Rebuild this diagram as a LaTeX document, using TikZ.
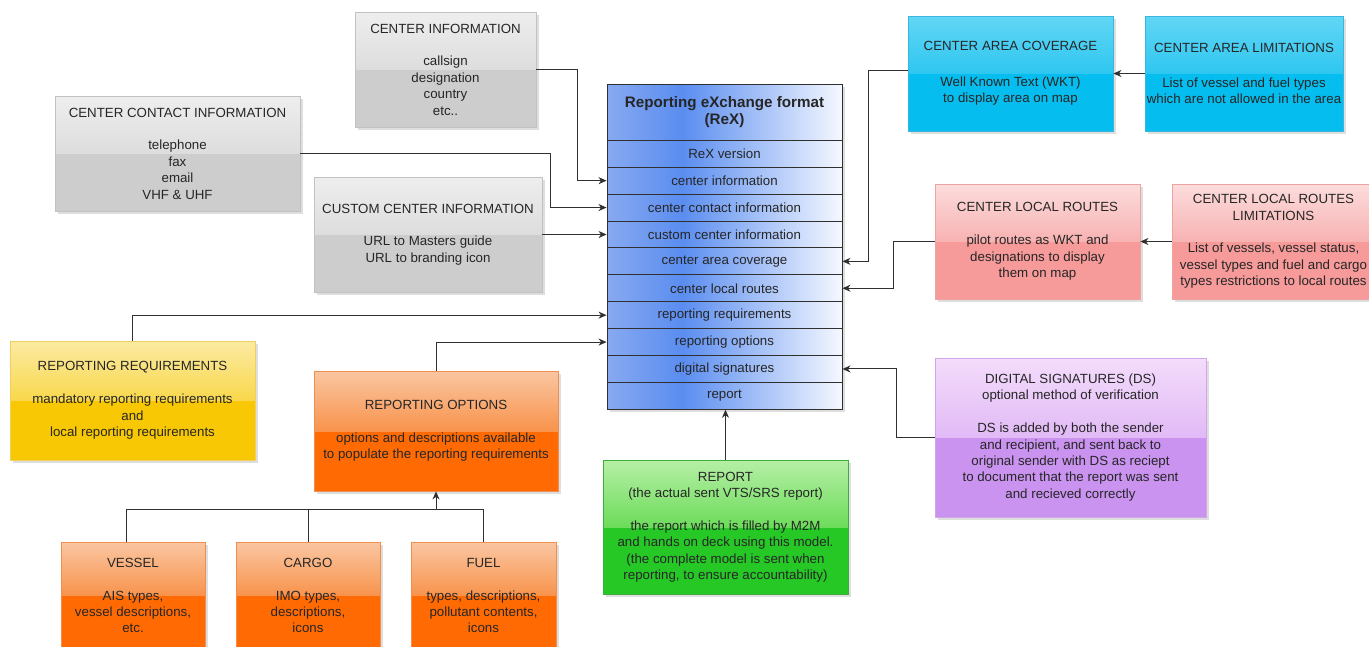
\documentclass[tikz,border=0pt]{standalone}
\usepackage{fontspec}
\setmainfont{Liberation Sans}
\usetikzlibrary{arrows.meta,calc}

% text and wire colours
\definecolor{ink}{HTML}{262626}
\definecolor{wire}{HTML}{303030}
% ReX block shading
\definecolor{rexL}{HTML}{88A9F0}
\definecolor{rexM}{HTML}{5A8DF0}
\definecolor{rexR}{HTML}{F5F8FF}
% card palettes: T top, M middle, B bottom half, E edge
\definecolor{grayT}{HTML}{EEEEEE}\definecolor{grayM}{HTML}{DDDDDD}\definecolor{grayB}{HTML}{CDCDCD}\definecolor{grayE}{HTML}{C2C2C2}
\definecolor{cyanT}{HTML}{62D6F5}\definecolor{cyanM}{HTML}{2EC6F0}\definecolor{cyanB}{HTML}{05BDEE}\definecolor{cyanE}{HTML}{3AB6DE}
\definecolor{pinkT}{HTML}{FCDCDC}\definecolor{pinkM}{HTML}{F8B2B2}\definecolor{pinkB}{HTML}{F69A9A}\definecolor{pinkE}{HTML}{EEA2A2}
\definecolor{yellT}{HTML}{FBEAA2}\definecolor{yellM}{HTML}{F9D84C}\definecolor{yellB}{HTML}{F9C804}\definecolor{yellE}{HTML}{EFCF5E}
\definecolor{orngT}{HTML}{FAC6A2}\definecolor{orngM}{HTML}{F8934C}\definecolor{orngB}{HTML}{FF6A02}\definecolor{orngE}{HTML}{EE8E50}
\definecolor{grenT}{HTML}{B6EFA6}\definecolor{grenM}{HTML}{6CDC5A}\definecolor{grenB}{HTML}{26C826}\definecolor{grenE}{HTML}{3EAE3E}
\definecolor{purpT}{HTML}{F4DCFB}\definecolor{purpM}{HTML}{E1BAF6}\definecolor{purpB}{HTML}{C993EF}\definecolor{purpE}{HTML}{CFA6E6}

\pgfdeclarehorizontalshading{rexshade}{100bp}{color(0bp)=(rexL); color(25bp)=(rexL); color(41bp)=(rexM); color(75bp)=(rexR); color(100bp)=(rexR)}

\newcommand\boxfont{\fontsize{13.3}{16.4}\selectfont}
\newcommand\rexhead{\fontsize{15.2}{17}\selectfont\bfseries}

% glossy card: name, x1, y1, x2, y2, palette, text
\newcommand\gbox[7]{%
  \fill[black!13] ({#2+2.5},{#3+2.5}) rectangle ({#4+2.5},{#5+2.5});
  \fill[#6B] (#2,{(#3+#5)/2}) rectangle (#4,#5);
  \shade[top color=#6T, bottom color=#6M] (#2,#3) rectangle (#4,{(#3+#5)/2});
  \node[card, draw=#6E, minimum width={(#4-#2)*1pt}, minimum height={(#5-#3)*1pt}]
    (#1) at ({(#2+#4)/2},{(#3+#5)/2}) {#7};
}

\tikzset{
  card/.style={line width=0.8pt, inner sep=0pt, align=center, text=ink, font=\boxfont},
  rexrow/.style={draw=wire, line width=0.9pt, minimum width=235pt, minimum height=26.9pt,
    inner sep=0pt, text=ink, font=\boxfont},
  link/.style={wire, line width=1pt},
  arr/.style={link, -{Stealth[length=8pt,width=7pt,inset=2.5pt]}},
}

\begin{document}
\begin{tikzpicture}[x=1pt,y=-1pt]
\fill[white] (0,0) rectangle (1369,646);
\useasboundingbox (0,0) rectangle (1369,646);

% ---- central ReX block ----
\fill[black!13] (609.5,86.5) rectangle (844.5,411.8);
\shade[shading=rexshade] (607,84) rectangle (842,409.3);
\node[rexrow, minimum height=56.3pt, align=center, font=\rexhead] (rex) at (724.5,112.15)
  {Reporting eXchange format\\(ReX)};
\foreach \lab [count=\i] in {ReX version, center information, center contact information,
  custom center information, center area coverage, center local routes,
  reporting requirements, reporting options, digital signatures, report}
  \node[rexrow] (r\i) at (724.5,{140.3+26.9*(\i-0.5)}) {\lab};

% ---- left-hand information cards ----
\gbox{cinfo}{355}{12}{536}{127}{gray}{CENTER INFORMATION\\[16.4pt]callsign\\designation\\country\\etc..}
\gbox{ccontact}{55}{96}{300}{211}{gray}{CENTER CONTACT INFORMATION\\[16.4pt]telephone\\fax\\email\\VHF \& UHF}
\gbox{custom}{314}{177}{542}{292}{gray}{CUSTOM CENTER INFORMATION\\[16.4pt]URL to Masters guide\\URL to branding icon}

% ---- right-hand area and route cards ----
\gbox{cover}{908}{16}{1113}{131}{cyan}{CENTER AREA COVERAGE\\[19pt]Well Known Text (WKT)\\to display area on map}
\gbox{alim}{1145}{16}{1343}{131}{cyan}{CENTER AREA LIMITATIONS\\[19pt]List of vessel and fuel types\\which are not allowed in the area}
\gbox{routes}{935}{184}{1140}{299}{pink}{CENTER LOCAL ROUTES\\[16.4pt]pilot routes as WKT and\\designations to display\\them on map}
\gbox{rlim}{1172}{184}{1375}{299}{pink}{CENTER LOCAL ROUTES\\LIMITATIONS\\[16.4pt]List of vessels, vessel status,\\vessel types and fuel and cargo\\types restrictions to local routes}

% ---- reporting cards ----
\gbox{req}{10}{341}{255}{460}{yell}{REPORTING REQUIREMENTS\\[16.4pt]mandatory reporting requirements\\and\\local reporting requirements}
\gbox{opt}{314}{371}{558}{491}{orng}{REPORTING OPTIONS\\[16.4pt]options and descriptions available\\to populate the reporting requirements}
\gbox{vessel}{61}{542}{205}{649}{orng}{VESSEL\\[16.4pt]AIS types,\\vessel descriptions,\\etc.}
\gbox{cargo}{236}{542}{380}{649}{orng}{CARGO\\[16.4pt]IMO types,\\descriptions,\\icons}
\gbox{fuel}{411}{542}{556}{649}{orng}{FUEL\\[16.4pt]types, descriptions,\\pollutant contents,\\icons}
\gbox{report}{603}{460}{848}{594}{gren}{REPORT\\(the actual sent VTS/SRS report)\\[16.4pt]the report which is filled by M2M\\and hands on deck using this model.\\(the complete model is sent when\\reporting, to ensure accountability)}
\gbox{ds}{935}{358}{1206}{517}{purp}{DIGITAL SIGNATURES (DS)\\optional method of verification\\[16.4pt]DS is added by both the sender\\and recipient, and sent back to\\original sender with DS as reciept\\to document that the report was sent\\and recieved correctly}

% ---- connectors into the ReX block ----
\draw[arr] (cinfo.east) -| ([xshift=-29pt]r2.west) -- (r2.west);
\draw[arr] (ccontact.east) -| ([xshift=-56pt]r3.west) -- (r3.west);
\draw[arr] (custom.east) -- (custom.east -| r4.west);
\draw[arr] ([yshift=3.5pt]cover.west) -| ([xshift=26pt]r5.east) -- (r5.east);
\draw[arr] (routes.west) -| ([xshift=51pt]r6.east) -- (r6.east);
\draw[arr] (req.north) |- (r7.west);
\draw[arr] (opt.north) |- (r8.west);
\draw[arr] (ds.west) -| ([xshift=54pt]r9.east) -- (r9.east);
\draw[arr] (report.north) -- (report.north |- r10.south);

% ---- limitations feeding their cards ----
\draw[arr] (alim.west) -- (cover.east);
\draw[arr] (rlim.west) -- (routes.east);

% ---- vessel, cargo and fuel feeding the options ----
\coordinate (bus) at (0,509);
\draw[link] ([xshift=-7pt]vessel.north) |- (bus -| fuel.north) -- (fuel.north);
\draw[link] (cargo.north) -- (cargo.north |- bus);
\draw[arr] (opt.south |- bus) -- (opt.south);
\end{tikzpicture}
\end{document}
